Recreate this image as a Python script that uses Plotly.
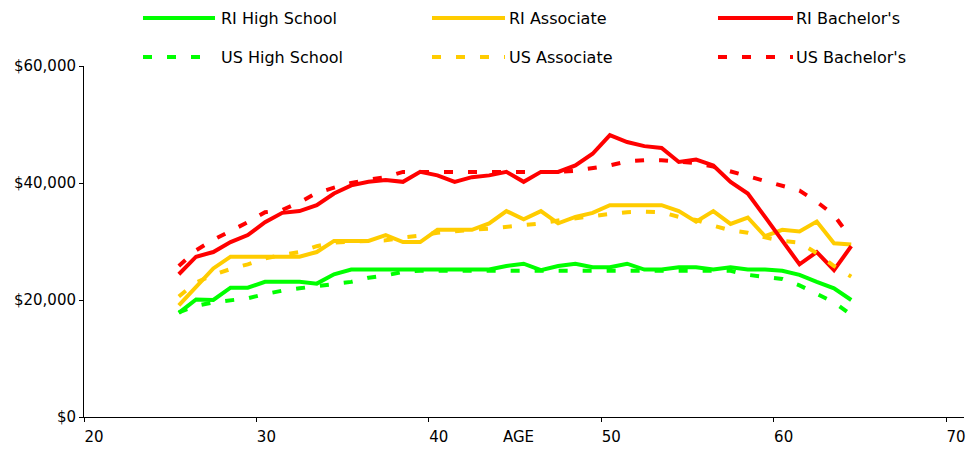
import plotly.graph_objects as go

# Age (plotted at mid-year positions as in the reference)
ages = [25.5, 26.5, 27.5, 28.5, 29.5, 30.5, 31.5, 32.5, 33.5, 34.5,
        35.5, 36.5, 37.5, 38.5, 39.5, 40.5, 41.5, 42.5, 43.5, 44.5,
        45.5, 46.5, 47.5, 48.5, 49.5, 50.5, 51.5, 52.5, 53.5, 54.5,
        55.5, 56.5, 57.5, 58.5, 59.5, 60.5, 61.5, 62.5, 63.5, 64.5]

ri_high_school = [17800, 20100, 20000, 22100, 22100, 23100, 23100, 23100, 22800, 24400,
                  25200, 25200, 25200, 25200, 25200, 25200, 25200, 25200, 25200, 25800,
                  26200, 25100, 25800, 26200, 25600, 25600, 26200, 25200, 25200, 25600,
                  25600, 25200, 25600, 25200, 25200, 25000, 24300, 23100, 22000, 20000]
us_high_school = [17900, 19000, 19600, 20000, 20300, 21000, 21600, 22000, 22400, 22800,
                  23100, 23800, 24200, 24800, 25000, 25000, 25000, 25000, 25000, 25000,
                  25000, 25000, 25000, 25000, 25000, 25000, 25000, 25000, 25000, 25000,
                  25000, 25000, 25000, 24300, 23900, 23600, 22500, 21000, 19600, 17500]
ri_associate = [19100, 22200, 25400, 27400, 27400, 27400, 27400, 27400, 28200, 30100,
                30100, 30100, 31100, 29900, 29900, 32000, 32000, 32000, 33100, 35200,
                33800, 35200, 33100, 34200, 34900, 36200, 36200, 36200, 36200, 35200,
                33400, 35200, 33000, 34100, 30900, 32000, 31700, 33400, 29700, 29500]
us_associate = [20600, 23000, 24300, 25300, 26100, 27100, 27700, 28200, 29200, 29800,
                30000, 30100, 30200, 30700, 31000, 31500, 31800, 32000, 32200, 32500,
                32800, 33100, 33600, 34000, 34300, 34700, 35000, 35100, 35000, 34200,
                33700, 32700, 31900, 31500, 30700, 30100, 29800, 28000, 25800, 24000]
ri_bachelors = [24400, 27400, 28200, 29900, 31100, 33300, 34900, 35200, 36200, 38200,
                39600, 40200, 40500, 40200, 41900, 41300, 40200, 41000, 41300, 41900,
                40200, 41900, 41900, 43000, 45000, 48200, 47000, 46300, 46000, 43600,
                44000, 43000, 40200, 38200, 34200, 30100, 26100, 28200, 25100, 29200]
us_bachelors = [25800, 28500, 30300, 31800, 33300, 35000, 35400, 36700, 38300, 39200,
                40000, 40600, 41000, 41900, 41900, 41900, 41900, 41900, 41900, 41900,
                41900, 41900, 41900, 42100, 42500, 43000, 43700, 43900, 43900, 43700,
                43400, 42800, 42000, 41200, 40400, 39600, 38700, 36800, 34500, 30500]

x_ticks = [20, 30, 40, 50, 60, 70]
y_ticks = [0, 20000, 40000, 60000]
y_tick_labels = ["$0", "$20,000", "$40,000", "$60,000"]

GREEN = "#00FF00"
YELLOW = "#FFCC00"
RED = "#FF0000"
DASH = "9px,15px"
FONT = "Verdana, DejaVu Sans, sans-serif"

series = [
    ("RI High School", ri_high_school, GREEN, "solid"),
    ("RI Associate", ri_associate, YELLOW, "solid"),
    ("RI Bachelor's", ri_bachelors, RED, "solid"),
    ("US High School", us_high_school, GREEN, DASH),
    ("US Associate", us_associate, YELLOW, DASH),
    ("US Bachelor's", us_bachelors, RED, DASH),
]

fig = go.Figure()
for name, vals, col, dash in series:
    fig.add_trace(go.Scatter(x=ages, y=vals, mode="lines", name=name,
                             line=dict(color=col, width=4, dash=dash),
                             showlegend=False))

W, H = 969, 449
L, R, T, B = 84, 5, 66, 32
pw, ph = W - L - R, H - T - B


def px(xp):
    return (xp - L) / pw


def py(yp):
    return (H - B - yp) / ph


# custom legend (2 rows x 3 columns)
legend_cols = [(143, 215, 220), (432, 505, 508), (718, 793, 795)]
legend_rows = [18, 57]
for i, (name, vals, col, dash) in enumerate(series):
    row, c = divmod(i, 3)
    x0, x1, xt = legend_cols[c]
    yy = legend_rows[row]
    fig.add_shape(type="line", xref="paper", yref="paper",
                  x0=px(x0), x1=px(x1), y0=py(yy), y1=py(yy),
                  line=dict(color=col, width=4, dash=dash))
    fig.add_annotation(xref="paper", yref="paper", x=px(xt), y=py(yy),
                       text=name, showarrow=False, xanchor="left", yanchor="middle",
                       borderpad=0,
                       font=dict(family=FONT, size=16, color="#000"))

fig.add_annotation(xref="paper", yref="paper", x=px(518), y=py(437),
                   text="AGE", showarrow=False, xanchor="center", yanchor="middle",
                   borderpad=0,
                   font=dict(family=FONT, size=15, color="#000"))

fig.update_layout(
    width=W, height=H,
    margin=dict(l=L, r=R, t=T, b=B, pad=0, autoexpand=False),
    paper_bgcolor="white", plot_bgcolor="white",
    font=dict(family=FONT, size=15, color="#000"),
    showlegend=False,
)
fig.update_xaxes(range=[20, 71.04], tickvals=x_ticks, showgrid=False, zeroline=False,
                 showline=True, linecolor="#000", linewidth=1, automargin=False,
                 ticks="outside", ticklen=4, tickcolor="#000",
                 tickfont=dict(size=15),
                 ticklabelshift=10, ticklabelstandoff=2)
fig.update_yaxes(range=[0, 60000], tickvals=y_ticks, ticktext=y_tick_labels,
                 showgrid=False, zeroline=False, automargin=False,
                 showline=True, linecolor="#000", linewidth=1,
                 ticks="outside", ticklen=4, tickcolor="#000",
                 tickfont=dict(size=15))

fig.write_html("out.html", config={"displayModeBar": False},
               post_script="document.body.style.margin='0';document.body.style.overflow='hidden';")
